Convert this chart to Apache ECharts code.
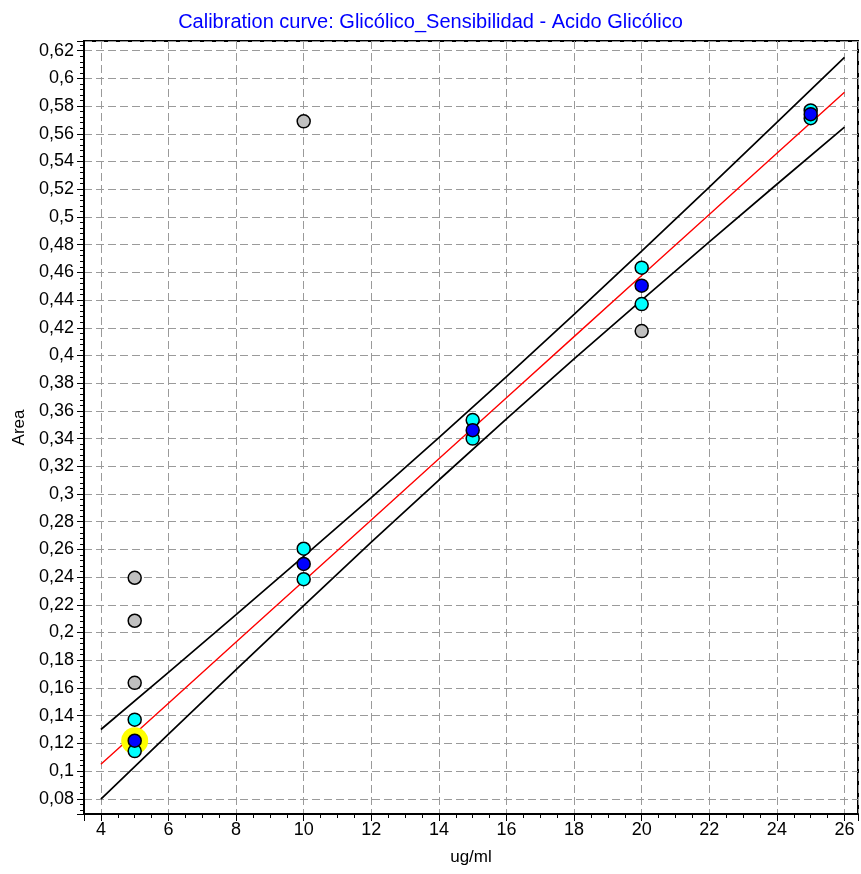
<!DOCTYPE html>
<html>
<head>
<meta charset="utf-8">
<script src="https://cdn.jsdelivr.net/npm/echarts@6/dist/echarts.min.js"></script>
<style>html,body{margin:0;padding:0;background:#fff}#c{width:861px;height:874px}</style>
</head>
<body>
<div id="c"></div>
<script>
// ---- data ----
const titleText = 'Calibration curve: Glicólico_Sensibilidad - Acido Glicólico';
const xName = 'ug/ml';
const yName = 'Area';

// excluded (gray) points
const excludedX = [5, 5, 5, 10, 20];
const excludedY = [0.2395, 0.2085, 0.1637, 0.569, 0.4176];

// replicate (cyan) points
const replicateX = [5, 5, 10, 10, 15, 15, 20, 20, 25, 25];
const replicateY = [0.1371, 0.1144, 0.2605, 0.2385, 0.3534, 0.340, 0.4634, 0.4371, 0.5769, 0.5713];

// mean (blue) points
const meanX = [5, 10, 15, 20, 25];
const meanY = [0.1219, 0.2495, 0.3461, 0.4504, 0.5742];

// highlighted point (yellow)
const highlightX = [5];
const highlightY = [0.1219];

// regression curve and confidence band
const curveX = [4, 6, 8, 10, 12, 14, 16, 18, 20, 22, 24, 26];
const fitY   = [0.1049, 0.1490, 0.1931, 0.2372, 0.2813, 0.3254, 0.3695, 0.4136, 0.4577, 0.5018, 0.5459, 0.5900];
const upperY = [0.1300, 0.1713, 0.2129, 0.2549, 0.2974, 0.3407, 0.3848, 0.4297, 0.4754, 0.5216, 0.5682, 0.6151];
const lowerY = [0.0798, 0.1267, 0.1733, 0.2195, 0.2652, 0.3101, 0.3542, 0.3975, 0.4400, 0.4820, 0.5236, 0.5649];

// axis ranges / ticks
const xMin = 3.5, xMax = 26.4, xStep = 2;
const yMin = 0.069, yMax = 0.627, yStep = 0.02;

const pair = (xs, ys) => xs.map((x, i) => [x, ys[i]]);
const isMultiple = (v, s) => Math.abs(v / s - Math.round(v / s)) < 1e-6;
const FONT = 'Liberation Sans, Arial, sans-serif';

const chart = echarts.init(document.getElementById('c'), null, {renderer: 'canvas'});
const gridLine = {show: true, lineStyle: {color: '#9a9a9a', type: [8, 4], width: 1}};

chart.setOption({
  animation: false,
  backgroundColor: '#ffffff',
  title: {
    text: titleText, left: 'center', top: 7,
    textStyle: {color: '#0000ff', fontSize: 20, fontWeight: 'normal', fontFamily: FONT}
  },
  grid: {left: 84, right: 3, top: 41, bottom: 60, show: true, borderColor: '#000', borderWidth: 2},
  xAxis: {
    type: 'value', min: xMin, max: xMax, minInterval: xStep, maxInterval: xStep, splitNumber: 11,
    name: xName, nameLocation: 'middle', nameGap: 35,
    nameTextStyle: {color: '#000', fontSize: 17, fontFamily: FONT},
    axisLine: {show: true, onZero: false, lineStyle: {color: '#000', width: 2}},
    axisTick: {show: true, length: 7, lineStyle: {color: '#000'}},
    minorTick: {show: true, splitNumber: 4, length: 4, lineStyle: {color: '#000'}},
    axisLabel: {
      color: '#000', fontSize: 18, fontFamily: FONT, margin: 7,
      formatter: v => isMultiple(v, xStep) ? String(Math.round(v)) : ''
    },
    splitLine: gridLine
  },
  yAxis: {
    type: 'value', min: yMin, max: yMax, minInterval: yStep, maxInterval: yStep, splitNumber: 28,
    name: yName, nameLocation: 'middle', nameGap: 56,
    nameTextStyle: {color: '#000', fontSize: 17, fontFamily: FONT},
    axisLine: {show: true, onZero: false, lineStyle: {color: '#000', width: 2}},
    axisTick: {show: true, length: 7, lineStyle: {color: '#000'}},
    minorTick: {show: true, splitNumber: 5, length: 4, lineStyle: {color: '#000'}},
    axisLabel: {
      color: '#000', fontSize: 18, fontFamily: FONT, margin: 10,
      formatter: v => isMultiple(v, yStep) ? String(Math.round(v * 100) / 100).replace('.', ',') : ''
    },
    splitLine: gridLine
  },
  series: [
    {type: 'line', data: pair(curveX, upperY), symbol: 'none', z: 2,
     lineStyle: {color: '#000', width: 1.7}},
    {type: 'line', data: pair(curveX, lowerY), symbol: 'none', z: 2,
     lineStyle: {color: '#000', width: 1.7}},
    {type: 'line', data: pair(curveX, fitY), symbol: 'none', z: 2,
     lineStyle: {color: '#ff0000', width: 1.4}},
    {type: 'scatter', data: pair(highlightX, highlightY), symbolSize: 27, z: 3,
     itemStyle: {color: '#ffff00', opacity: 1}},
    {type: 'scatter', data: pair(excludedX, excludedY), symbolSize: 13, z: 4,
     itemStyle: {color: '#c0c0c0', borderColor: '#000', borderWidth: 1.5, opacity: 1}},
    {type: 'scatter', data: pair(replicateX, replicateY), symbolSize: 13, z: 4,
     itemStyle: {color: '#00ffff', borderColor: '#000', borderWidth: 1.5, opacity: 1}},
    {type: 'scatter', data: pair(meanX, meanY), symbolSize: 13, z: 5,
     itemStyle: {color: '#0000ff', borderColor: '#000', borderWidth: 1.5, opacity: 1}}
  ]
});
</script>
</body>
</html>
